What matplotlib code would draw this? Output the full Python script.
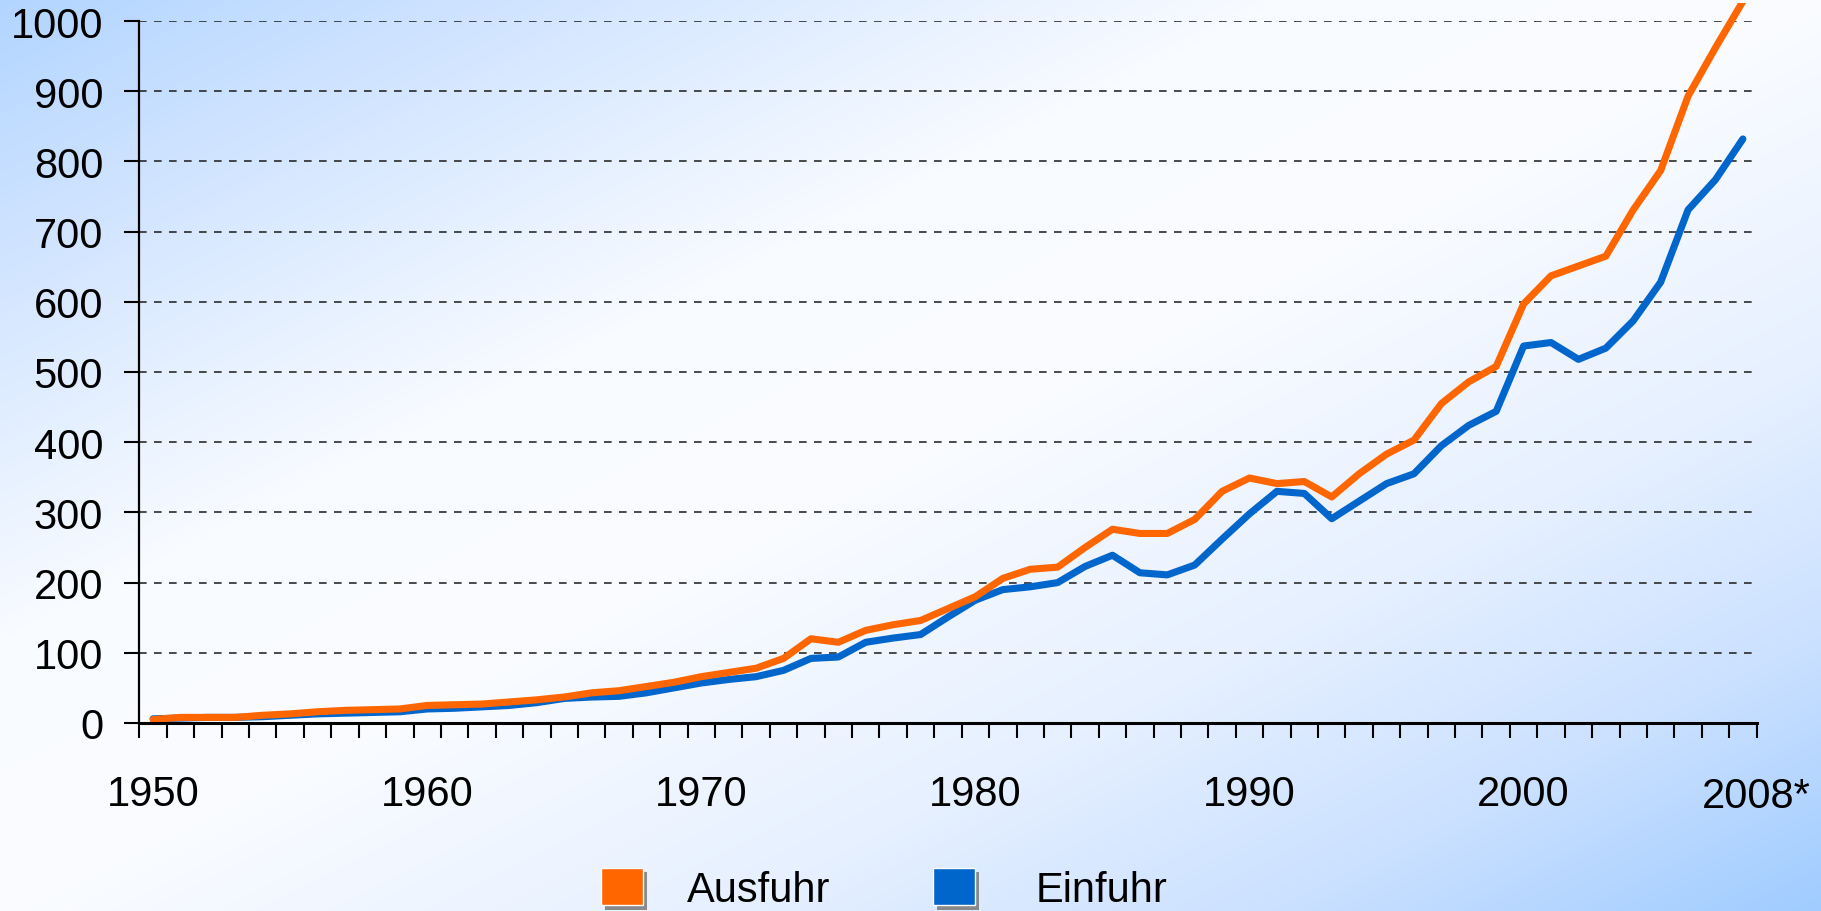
import numpy as np
import matplotlib
matplotlib.use("Agg")
import matplotlib.pyplot as plt
from matplotlib.patches import Patch, Rectangle
import matplotlib.patheffects as pe

plt.rcParams['font.family'] = ['Liberation Sans', 'DejaVu Sans']
plt.rcParams['lines.scale_dashes'] = False

# ---------------- data ----------------
years = list(range(1950, 2009))
ausfuhr = [5, 8, 8, 8, 11, 13, 16, 18, 19, 20,
           25, 26, 27, 30, 33, 37, 43, 46, 52, 58,
           66, 72, 78, 92, 120, 115, 132, 140, 146, 163,
           180, 206, 219, 222, 250, 276, 270, 270, 290, 330,
           349, 341, 344, 322, 355, 383, 403, 455, 486, 508,
           597, 637, 651, 665, 731, 787, 893, 962, 1028]
einfuhr = [6, 7, 8, 8, 9, 11, 13, 14, 15, 16,
           20, 21, 23, 25, 29, 35, 37, 38, 43, 50,
           57, 62, 66, 75, 92, 94, 115, 121, 126, 151,
           175, 190, 194, 200, 223, 239, 214, 211, 225, 262,
           298, 330, 327, 291, 316, 341, 355, 395, 424, 444,
           537, 542, 518, 534, 573, 628, 731, 774, 832]
xlabel_years = [1950, 1960, 1970, 1980, 1990, 2000]
last_label = "2008*"
yticks = list(range(0, 1001, 100))
series_names = ["Ausfuhr", "Einfuhr"]
colors = ["#FF6600", "#0066CC"]

W, H = 1821, 912
fig = plt.figure(figsize=(W / 100, H / 100), dpi=100)

# ---------------- background gradient ----------------
bg = fig.add_axes([0, 0, 1, 1], zorder=-10)
X, Y = np.meshgrid(np.linspace(0, 1, 400), np.linspace(0, 1, 200))
t = (X + Y) / 2.0
stops = [0.0, 0.15, 0.35, 0.5, 0.7, 0.85, 1.0]
cols = np.array([(178, 213, 255), (210, 229, 255), (248, 251, 255), (250, 252, 255),
                 (230, 240, 255), (203, 225, 255), (160, 204, 255)]) / 255.0
img = np.zeros(t.shape + (3,))
for c in range(3):
    img[..., c] = np.interp(t, stops, cols[:, c])
bg.imshow(img, aspect='auto', extent=[0, 1, 0, 1], origin='upper', interpolation='bilinear')
bg.set_axis_off()

# ---------------- main axes ----------------
left, right = 139.4 / W, 1756.6 / W
bottom, top = (H - 724) / H, (H - 22) / H
ax = fig.add_axes([left, bottom, right - left, top - bottom])
ax.set_facecolor('none')

# chart area slightly taller than the value axis (lines may run above 1000)
clip_rect = Rectangle((-0.05, -0.05), 1.1, 1.05 + 18 / 702, transform=ax.transAxes,
                      facecolor='none', edgecolor='none')
ax.add_patch(clip_rect)

x = np.arange(len(years))
l1, = ax.plot(x, einfuhr, color=colors[1], lw=5.1, solid_joinstyle='round',
              solid_capstyle='round', zorder=3)
l2, = ax.plot(x, ausfuhr, color=colors[0], lw=5.1, solid_joinstyle='round',
              solid_capstyle='round', zorder=4)
for ln in (l1, l2):
    ln.set_clip_path(clip_rect)

ax.set_xlim(-0.5, len(years) - 0.5)
ax.set_ylim(0, 1000)

for s in ['top', 'right']:
    ax.spines[s].set_visible(False)
ax.spines['left'].set_linewidth(1.6)
ax.spines['bottom'].set_linewidth(2.2)
ax.spines['left'].set_zorder(5)
ax.spines['bottom'].set_zorder(5)

# gridlines
for v in yticks[1:]:
    ax.axhline(v, color='#1a1a1a', lw=1.1, linestyle=(0, (5.5, 5.3)), zorder=1)

# y ticks
ax.set_yticks(yticks)
ax.set_yticklabels([str(v) for v in yticks])
ax.tick_params(axis='y', direction='out', length=10.8, width=1.5, pad=15.3,
               labelsize=30, colors='black')

# x ticks
ax.set_xticks([years.index(y) for y in xlabel_years])
ax.set_xticklabels([str(y) for y in xlabel_years])
ax.set_xticks(np.arange(-0.5, len(years), 1.0), minor=True)
ax.tick_params(axis='x', which='major', length=0, pad=36.5, labelsize=30)
ax.tick_params(axis='x', which='minor', direction='out', length=10.8, width=1.5)
ax.annotate(last_label, xy=(len(years) - 0.5, 0), xycoords=('data', 'axes fraction'),
            xytext=(0, -38.5), textcoords='offset points', ha='center', va='top',
            fontsize=30, annotation_clip=False)

# ---------------- legend (two entries placed separately) ----------------
shadow = [pe.SimplePatchShadow(offset=(3, -3), shadow_rgbFace='#7f7f7f', alpha=0.9), pe.Normal()]
handles = [Patch(facecolor=colors[i], edgecolor='white', linewidth=1.0,
                 label=series_names[i], path_effects=shadow) for i in range(2)]
leg_x = [601 / W, 933 / W]
leg_pad = [1.06, 1.46]
for i in range(2):
    fig.legend(handles=[handles[i]], loc='center left',
               bbox_to_anchor=(leg_x[i], 1 - 890 / H),
               bbox_transform=fig.transFigure, frameon=False, fontsize=30,
               handlelength=1.0, handleheight=1.0, handletextpad=leg_pad[i],
               borderpad=0, borderaxespad=0)

fig.savefig("out.png", dpi=100)
